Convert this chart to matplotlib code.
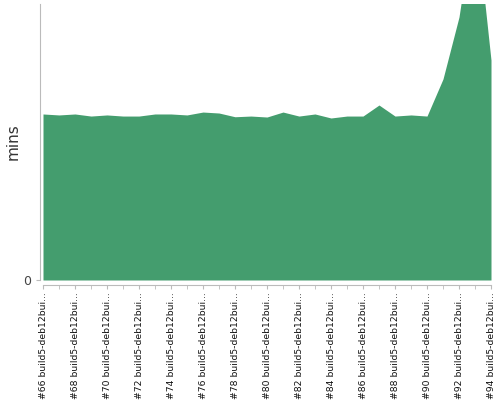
import matplotlib
matplotlib.use('Agg')
import matplotlib.pyplot as plt
from matplotlib.ticker import FixedLocator, NullFormatter

builds = list(range(66, 95))
labels = ['#%d build5-deb12bui...' % b for b in builds]
mins = [12.03, 11.96, 12.03, 11.88, 11.96, 11.88, 11.88, 12.03, 12.03, 11.96,
        12.17, 12.10, 11.83, 11.88, 11.81, 12.17, 11.88, 12.03, 11.74, 11.88,
        11.88, 12.68, 11.88, 11.96, 11.88, 14.57, 19.06, 26.74, 15.94]

fig = plt.figure(figsize=(5, 4), dpi=100)
ax = fig.add_axes([43 / 500, 1 - 280 / 400, 448 / 500, 276 / 400])

x = list(range(len(builds)))
ax.fill_between(x, mins, 0, color='#449d6e', linewidth=0)
ax.set_xlim(0, len(builds) - 1)
ax.set_ylim(0, 20)

for s in ['top', 'right']:
    ax.spines[s].set_visible(False)
ax.spines['left'].set_position(('outward', 2.2))
ax.spines['bottom'].set_position(('outward', 3.6))
for s in ['left', 'bottom']:
    ax.spines[s].set_color('#bbbbbb')

ax.set_yticks([0])
ax.set_yticklabels(['0'], fontsize=9, color='#444444')
ax.tick_params(axis='y', length=3, color='#bbbbbb')

ax.xaxis.set_major_locator(FixedLocator(x[::2]))
ax.set_xticklabels(labels[::2], rotation=90, fontsize=6.7, color='#111111')
ax.xaxis.set_minor_locator(FixedLocator(x[1::2]))
ax.xaxis.set_minor_formatter(NullFormatter())
ax.tick_params(axis='x', which='both', length=3, color='#bbbbbb', pad=2)

ax.set_ylabel('mins', fontsize=11, color='#333333', labelpad=2)

fig.savefig('out.png', dpi=100)
